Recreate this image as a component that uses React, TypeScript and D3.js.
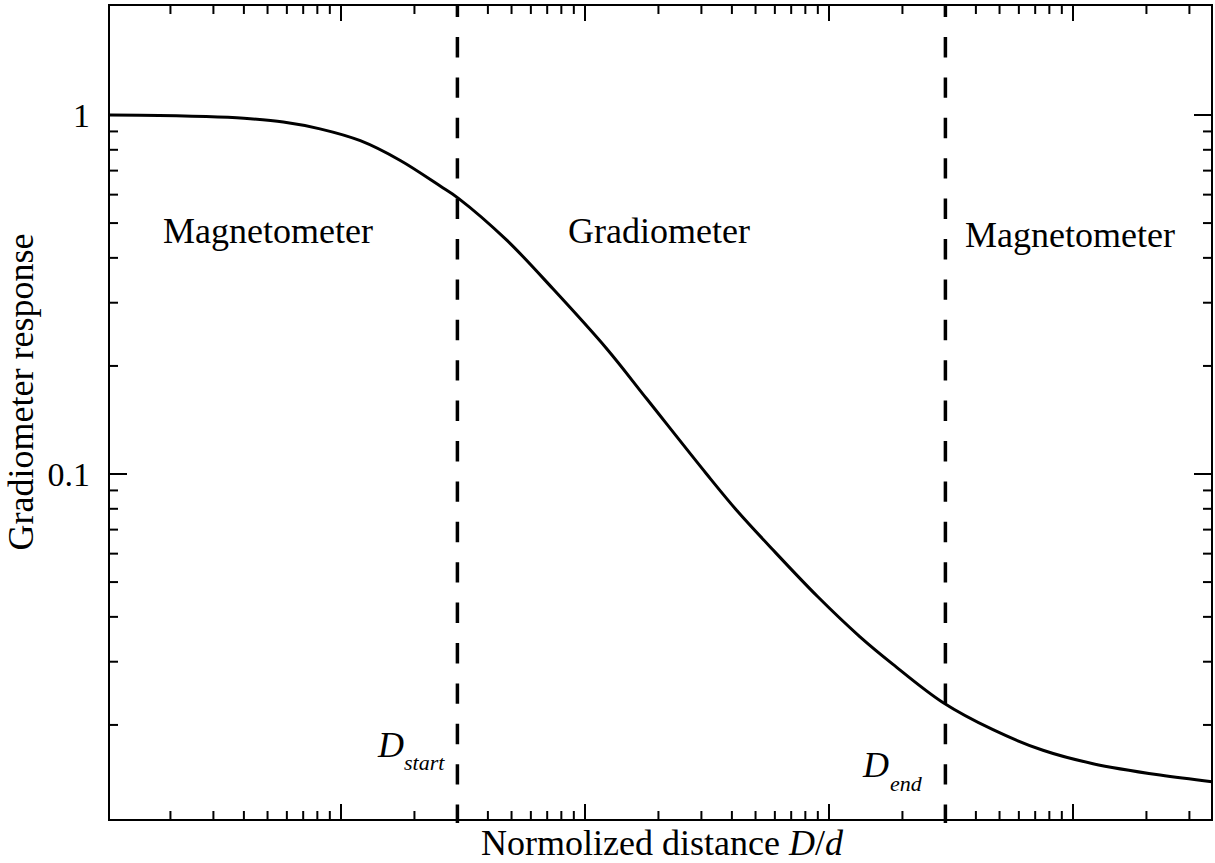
import React from "react";
import * as d3 from "d3";

// Normalized distance D/d and the gradiometer response at each distance
const distance = [
  0.112, 0.15, 0.28, 0.4, 0.58, 0.82, 1.2, 1.75, 2.55, 3.03, 4.78, 7.39, 12.3,
  17.9, 31.5, 42, 58.9, 90, 134, 183, 293, 470, 753, 1208, 2274, 3713,
];
const response = [
  1.0, 0.999, 0.99, 0.979, 0.956, 0.915, 0.848, 0.747, 0.634, 0.586, 0.448,
  0.328, 0.223, 0.162, 0.1, 0.079, 0.0615, 0.0455, 0.0352, 0.0295, 0.0231,
  0.0194, 0.017, 0.0156, 0.0145, 0.0139,
];

// Region boundaries (D_start, D_end)
const boundaries = [3, 300];
const boundaryNames = ["start", "end"];

// Labelled y ticks
const yTickLabels = [
  { value: 1, text: "1" },
  { value: 0.1, text: "0.1" },
];

const regionLabels = ["Magnetometer", "Gradiometer", "Magnetometer"];

const W = 1215;
const H = 863;
const left = 109;
const right = 1212;
const top = 5;
const bottom = 820;

const FONT = "'Liberation Serif', 'Times New Roman', serif";

export default function App() {
  const x = d3.scaleLog().domain([0.112, 3713]).range([left, right]);
  const y = d3.scaleLog().domain([0.01087, 2.025]).range([bottom, top]);

  const isMajor = (v: number) => Math.abs(Math.log10(v) - Math.round(Math.log10(v))) < 1e-9;

  const xTicks = x.ticks().filter((v) => x(v) > left + 1 && x(v) < right - 1);
  const yTicks = y.ticks().filter((v) => y(v) > top + 4 && y(v) < bottom - 1);

  const points: [number, number][] = distance.map((d, i) => [x(d), y(response[i])]);
  const line = d3.line().curve(d3.curveCatmullRom.alpha(0.5))(points) || "";

  const majorLen = 16;
  const minorLen = 9;

  return (
    <svg
      width={W}
      height={H}
      style={{ position: "absolute", left: 0, top: 0, background: "#fff" }}
      fontFamily={FONT}
    >
      <rect x={0} y={0} width={W} height={H} fill="#fff" />

      {/* x ticks on bottom and top */}
      {xTicks.map((v, i) => {
        const len = isMajor(v) ? majorLen : minorLen;
        return (
          <g key={"xt" + i} stroke="#000" strokeWidth={2}>
            <line x1={x(v)} x2={x(v)} y1={bottom} y2={bottom - len} />
            <line x1={x(v)} x2={x(v)} y1={top} y2={top + len} />
          </g>
        );
      })}

      {/* y ticks on left and right */}
      {yTicks.map((v, i) => {
        const len = isMajor(v) ? majorLen + 2 : minorLen;
        return (
          <g key={"yt" + i} stroke="#000" strokeWidth={2}>
            <line x1={left} x2={left + len} y1={y(v)} y2={y(v)} />
            <line x1={right} x2={right - len} y1={y(v)} y2={y(v)} />
          </g>
        );
      })}

      {/* frame */}
      <rect
        x={left}
        y={top}
        width={right - left}
        height={bottom - top}
        fill="none"
        stroke="#000"
        strokeWidth={2}
      />

      {/* y tick labels */}
      {yTickLabels.map((t) => (
        <text
          key={t.text}
          x={90}
          y={y(t.value) + 11.5}
          fontSize={34}
          textAnchor="end"
          fill="#000"
        >
          {t.text}
        </text>
      ))}

      {/* region boundaries */}
      {boundaries.map((b) => (
        <line
          key={"b" + b}
          x1={x(b)}
          x2={x(b)}
          y1={top}
          y2={bottom + 3}
          stroke="#000"
          strokeWidth={3.5}
          strokeDasharray="20.4 20"
          strokeDashoffset={8.4}
        />
      ))}

      {/* response curve */}
      <path d={line} fill="none" stroke="#000" strokeWidth={3} />

      {/* region labels */}
      <text x={163} y={243} fontSize={36} fill="#000">
        {regionLabels[0]}
      </text>
      <text x={568} y={243} fontSize={36} fill="#000">
        {regionLabels[1]}
      </text>
      <text x={965} y={247} fontSize={36} fill="#000">
        {regionLabels[2]}
      </text>

      {/* boundary labels */}
      <text x={378} y={757} fontSize={36} fontStyle="italic" fill="#000">
        D
      </text>
      <text x={404} y={770} fontSize={22} fontStyle="italic" fill="#000">
        {boundaryNames[0]}
      </text>
      <text x={863} y={777} fontSize={36} fontStyle="italic" fill="#000">
        D
      </text>
      <text x={890} y={791} fontSize={22} fontStyle="italic" fill="#000">
        {boundaryNames[1]}
      </text>

      {/* axis titles */}
      <text x={662} y={855} fontSize={36} textAnchor="middle" fill="#000">
        Normolized distance <tspan fontStyle="italic">D</tspan>/<tspan fontStyle="italic">d</tspan>
      </text>
      <text
        transform="translate(33,392) rotate(-90)"
        fontSize={36}
        textAnchor="middle"
        fill="#000"
      >
        Gradiometer response
      </text>
    </svg>
  );
}
